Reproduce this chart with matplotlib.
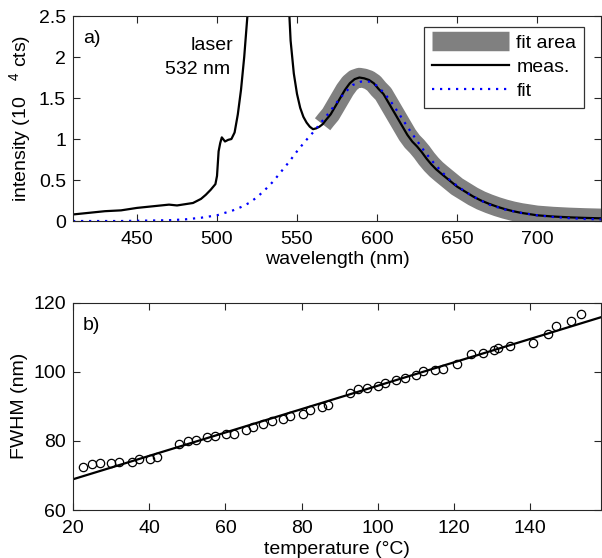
import numpy as np
import matplotlib
matplotlib.use('Agg')
import matplotlib.pyplot as plt

plt.rcParams['font.family'] = ['Liberation Sans', 'DejaVu Sans']
plt.rcParams['mathtext.fontset'] = 'custom'
plt.rcParams['mathtext.rm'] = 'Liberation Sans'
plt.rcParams['font.size'] = 14

# spectrum (wavelength in nm, intensity in 10^4 counts)
wl_meas = [410, 415, 420, 425, 430, 435, 440, 445, 450, 455, 460, 465, 470,
           475, 480, 485, 490, 493, 496, 499, 500, 501, 502, 503, 505, 507,
           509, 511, 513, 515, 516, 517, 518, 519, 521, 532, 544, 546, 548,
           550, 552, 554, 556, 558, 560, 562, 564, 566, 568, 571, 574, 577,
           580, 583, 586, 589, 592, 595, 598, 601, 604, 607, 610, 613, 616,
           619, 622, 625, 628, 631, 634, 637, 640, 645, 650, 655, 660, 665,
           670, 675, 680, 685, 690, 695, 700, 710, 720, 730, 740]
int_meas = [0.08, 0.09, 0.10, 0.11, 0.12, 0.125, 0.13, 0.145, 0.16, 0.17,
            0.18, 0.19, 0.20, 0.19, 0.205, 0.22, 0.27, 0.32, 0.38, 0.45,
            0.55, 0.85, 0.95, 1.02, 0.97, 0.99, 1.00, 1.08, 1.30, 1.60,
            1.80, 2.00, 2.25, 2.50, 3.2, 9.0, 3.0, 2.20, 1.80, 1.55, 1.38,
            1.27, 1.20, 1.15, 1.12, 1.13, 1.15, 1.18, 1.23, 1.30, 1.40,
            1.50, 1.60, 1.68, 1.73, 1.75, 1.74, 1.72, 1.68, 1.61, 1.55,
            1.45, 1.35, 1.25, 1.15, 1.05, 0.97, 0.91, 0.84, 0.76, 0.69,
            0.63, 0.58, 0.50, 0.42, 0.36, 0.30, 0.25, 0.21, 0.175, 0.145,
            0.12, 0.10, 0.085, 0.07, 0.055, 0.045, 0.038, 0.033]

wl_fit = [410, 440, 470, 480, 490, 500, 505, 510, 515, 520, 525, 530, 535,
          540, 545, 550, 555, 560, 565, 570, 575, 580, 585, 590, 595, 600,
          605, 610, 615, 620, 625, 630, 635, 640, 645, 650, 655, 660, 665,
          670, 680, 690, 700, 710, 720, 730, 740]
int_fit = [0.0, 0.0, 0.01, 0.02, 0.04, 0.07, 0.10, 0.13, 0.17, 0.22, 0.29,
           0.38, 0.48, 0.60, 0.72, 0.85, 0.97, 1.08, 1.20, 1.32, 1.45, 1.57,
           1.66, 1.70, 1.70, 1.65, 1.55, 1.42, 1.27, 1.12, 0.98, 0.84, 0.72,
           0.61, 0.51, 0.43, 0.36, 0.30, 0.25, 0.20, 0.14, 0.10, 0.07, 0.05,
           0.035, 0.025, 0.02]

fit_start = 566  # lower edge of the fitted wavelength range

# peak width versus temperature
temp = [22.5, 25.0, 27.0, 30.0, 32.1, 35.4, 37.3, 40.1, 42.1, 47.9, 50.1,
        52.2, 55.1, 57.2, 60.2, 62.3, 65.5, 67.2, 69.8, 72.2, 75.2, 76.9,
        80.3, 82.1, 85.3, 87.0, 92.8, 94.8, 97.3, 100.0, 102.0, 104.9,
        107.1, 110.1, 111.8, 115.1, 117.1, 120.7, 124.6, 127.5, 130.5,
        131.5, 134.8, 140.8, 144.7, 146.8, 150.8, 153.4]
fwhm = [72.5, 73.2, 73.5, 73.7, 73.9, 73.9, 74.7, 74.9, 75.3, 79.2, 80.0,
        80.4, 81.0, 81.4, 82.0, 82.1, 83.1, 84.1, 84.8, 85.7, 86.3, 87.1,
        87.9, 88.9, 89.8, 90.4, 94.0, 94.9, 95.4, 96.0, 96.8, 97.6, 98.2,
        99.2, 100.2, 100.4, 100.9, 102.4, 105.3, 105.5, 106.4, 106.9, 107.4,
        108.4, 111.0, 113.2, 114.7, 116.8]
line_temp = [20, 158.6]
line_fwhm = [68.9, 115.8]

axcol = '#262626'


def style_axes(ax):
    ax.tick_params(direction='in', top=True, right=True, length=5,
                   width=0.8, color=axcol, labelsize=14)
    ax.tick_params(axis='x', pad=7)
    ax.tick_params(axis='y', pad=5)
    for s in ax.spines.values():
        s.set_color(axcol)
        s.set_linewidth(0.8)


fig = plt.figure(figsize=(6.02, 5.58), dpi=100)
ax1 = fig.add_axes([0.1213, 0.6039, 0.877, 0.3674])
ax2 = fig.add_axes([0.1213, 0.0860, 0.877, 0.3715])

# a) spectrum
wl_arr = np.array(wl_meas)
int_arr = np.array(int_meas)
sel = wl_arr >= fit_start
ax1.plot(wl_arr[sel], int_arr[sel], color='#808080', lw=14,
         solid_capstyle='butt', label='fit area')
ax1.plot(wl_meas, int_meas, color='black', lw=1.6, label='meas.')
ax1.plot(wl_fit, int_fit, color='blue', lw=1.6, ls=(0, (1, 2.6)),
         label='fit')
ax1.set_xlim(410, 740)
ax1.set_ylim(0, 2.5)
ax1.set_xticks([450, 500, 550, 600, 650, 700])
ax1.set_yticks([0, 0.5, 1, 1.5, 2, 2.5])
ax1.set_yticklabels(['0', '0.5', '1', '1.5', '2', '2.5'])
ax1.set_xlabel('wavelength (nm)', labelpad=2)
ax1.set_ylabel(r'intensity (10   $\mathregular{^{4}}$ cts)', labelpad=4)
style_axes(ax1)
leg = ax1.legend(loc='upper right', bbox_to_anchor=(0.968, 0.947),
                 handlelength=4.0, fontsize=14, frameon=True, fancybox=False,
                 borderpad=0.4, labelspacing=0.32, handletextpad=0.35,
                 borderaxespad=0)
leg.get_frame().set_edgecolor('black')
leg.get_frame().set_linewidth(0.9)
ax1.text(0.019, 0.89, 'a)', transform=ax1.transAxes, fontsize=14,
         va='center', ha='left')
ax1.text(0.303, 0.855, 'laser', transform=ax1.transAxes, fontsize=14,
         va='center', ha='right')
ax1.text(0.297, 0.74, '532 nm', transform=ax1.transAxes, fontsize=14,
         va='center', ha='right')

# b) FWHM vs temperature
ax2.plot(line_temp, line_fwhm, color='black', lw=1.6)
ax2.plot(temp, fwhm, ls='none', marker='o', ms=6, mfc='none',
         mec='black', mew=0.9)
ax2.set_xlim(20, 158.6)
ax2.set_ylim(60, 120)
ax2.set_xticks([20, 40, 60, 80, 100, 120, 140])
ax2.set_yticks([60, 80, 100, 120])
ax2.set_xlabel('temperature (°C)', labelpad=3)
ax2.set_ylabel('FWHM (nm)', labelpad=4)
style_axes(ax2)
ax2.text(0.019, 0.89, 'b)', transform=ax2.transAxes, fontsize=14,
         va='center', ha='left')

fig.savefig('out.png', dpi=100)
